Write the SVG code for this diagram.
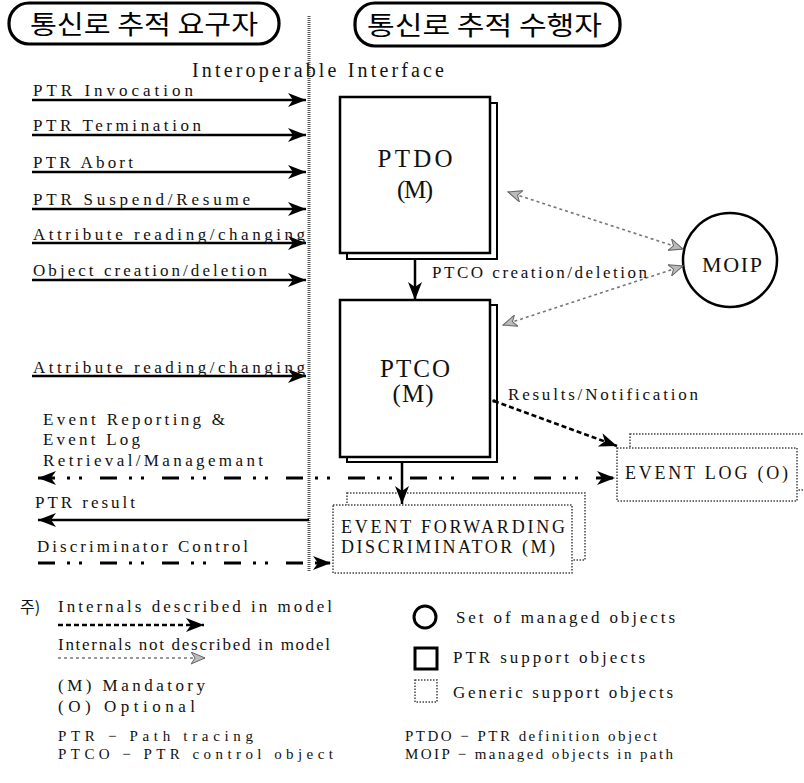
<svg xmlns="http://www.w3.org/2000/svg" width="804" height="783" viewBox="0 0 804 783" font-family="'Liberation Serif', 'DejaVu Serif', serif">
<defs>
<style>
text{font-family:"Liberation Serif","DejaVu Serif",serif;fill:#111}
.kr{font-family:"Noto Sans CJK KR","Noto Sans",sans-serif;font-size:26px;fill:#000}
.lbl{font-size:17px}
.sm{font-size:15px}
.big{font-size:25px;text-anchor:middle}
.gen{font-size:18px}
.solid{stroke:#000;stroke-width:2.5;fill:none}
.box{fill:#fff;stroke:#000;stroke-width:2.5}
.shadow{fill:#fff;stroke:#000;stroke-width:2}
.dotbox{fill:#fff;stroke:#444;stroke-width:1.5;stroke-dasharray:1.5 1.5}
.dashdot{stroke:#000;stroke-width:3;fill:none;stroke-dasharray:17 12 3 9 3 18}
.dashed{stroke:#000;stroke-width:2.5;fill:none;stroke-dasharray:5 3}
.grey{stroke:#777;stroke-width:1.6;fill:none;stroke-dasharray:3 3}
</style>
<marker id="ah" markerUnits="userSpaceOnUse" markerWidth="20" markerHeight="16" refX="18" refY="7" orient="auto-start-reverse">
<path d="M0,0 L18,7 L0,14 L5,7 Z" fill="#000"/>
</marker>
<marker id="gh" markerUnits="userSpaceOnUse" markerWidth="16" markerHeight="14" refX="14" refY="6" orient="auto-start-reverse">
<path d="M0,0 L14,6 L0,12 L4,6 Z" fill="#bbb" stroke="#666" stroke-width="1"/>
</marker>
</defs>

<g id="header-left">
<rect x="9" y="3" width="270" height="41" rx="20" fill="#fff" stroke="#000" stroke-width="3.2"/>
<text class="kr" x="30" y="34" textLength="228" lengthAdjust="spacingAndGlyphs">통신로 추적 요구자</text>
</g>
<g id="header-right">
<rect x="355" y="3" width="265" height="43" rx="20" fill="#fff" stroke="#000" stroke-width="3.2"/>
<text class="kr" x="367" y="35" textLength="235" lengthAdjust="spacingAndGlyphs">통신로 추적 수행자</text>
</g>

<g id="interface">
<line x1="309" y1="16" x2="309" y2="572" stroke="#555" stroke-width="3" stroke-dasharray="1 1"/>
<text x="192" y="77" font-size="20" textLength="252" lengthAdjust="spacing">Interoperable Interface</text>
</g>

<g id="PTDO">
<rect class="shadow" x="347" y="103" width="150" height="156"/>
<rect class="box" x="340" y="97" width="150" height="156"/>
<text class="big" x="415" y="167" textLength="75" lengthAdjust="spacing">PTDO</text>
<text class="big" x="415" y="198" textLength="36" lengthAdjust="spacing">(M)</text>
</g>

<g id="PTCO">
<rect class="shadow" x="347" y="305" width="150" height="157"/>
<rect class="box" x="340" y="300" width="150" height="157"/>
<text class="big" x="415" y="377" textLength="70" lengthAdjust="spacing">PTCO</text>
<text class="big" x="413" y="402" textLength="41" lengthAdjust="spacing">(M)</text>
</g>

<g id="MOIP">
<circle cx="730" cy="260" r="47" fill="#fff" stroke="#000" stroke-width="2.5"/>
<text x="732" y="272" font-size="22" text-anchor="middle" textLength="60" lengthAdjust="spacing">MOIP</text>
</g>

<g id="EVENT-LOG">
<rect class="dotbox" x="630" y="434" width="180" height="56"/>
<rect class="dotbox" x="617" y="448" width="180" height="53"/>
<text class="gen" x="625" y="479" textLength="163" lengthAdjust="spacing">EVENT LOG (O)</text>
</g>

<g id="EFD">
<rect class="dotbox" x="347" y="493" width="238" height="67"/>
<rect class="dotbox" x="333" y="505" width="239" height="68"/>
<text class="gen" x="341" y="533" textLength="224" lengthAdjust="spacing">EVENT FORWARDING</text>
<text class="gen" x="341" y="553" textLength="214" lengthAdjust="spacing">DISCRIMINATOR (M)</text>
</g>

<g id="connectors">
<line class="solid" x1="32" y1="100" x2="306" y2="100" marker-end="url(#ah)"/>
<line class="solid" x1="32" y1="135" x2="306" y2="135" marker-end="url(#ah)"/>
<line class="solid" x1="32" y1="172" x2="306" y2="172" marker-end="url(#ah)"/>
<line class="solid" x1="32" y1="209" x2="306" y2="209" marker-end="url(#ah)"/>
<line class="solid" x1="32" y1="243" x2="306" y2="243" marker-end="url(#ah)"/>
<line class="solid" x1="32" y1="280" x2="306" y2="280" marker-end="url(#ah)"/>
<line class="solid" x1="32" y1="376" x2="306" y2="376" marker-end="url(#ah)"/>
<line class="solid" x1="309" y1="520" x2="38" y2="520" marker-end="url(#ah)"/>
<line class="dashdot" x1="38" y1="478" x2="615" y2="478" marker-start="url(#ah)" marker-end="url(#ah)"/>
<line class="dashdot" x1="38" y1="563" x2="331" y2="563" marker-end="url(#ah)"/>
<line class="solid" x1="415" y1="259" x2="415" y2="300" marker-end="url(#ah)"/>
<line class="solid" x1="402" y1="462" x2="402" y2="504" marker-end="url(#ah)"/>
<line class="dashed" x1="494" y1="401" x2="617" y2="446" marker-end="url(#ah)"/>
<circle cx="494" cy="401" r="1.8" fill="#000"/>
<line class="grey" x1="508" y1="192" x2="683" y2="249" marker-start="url(#gh)" marker-end="url(#gh)"/>
<line class="grey" x1="503" y1="325" x2="683" y2="266" marker-start="url(#gh)" marker-end="url(#gh)"/>
</g>

<g id="labels">
<text class="lbl" x="33" y="96" textLength="160" lengthAdjust="spacing">PTR  Invocation</text>
<text class="lbl" x="33" y="131" textLength="168" lengthAdjust="spacing">PTR Termination</text>
<text class="lbl" x="33" y="168" textLength="100" lengthAdjust="spacing">PTR Abort</text>
<text class="lbl" x="33" y="205" textLength="217" lengthAdjust="spacing">PTR Suspend/Resume</text>
<text class="lbl" x="33" y="240" textLength="272" lengthAdjust="spacing">Attribute reading/changing</text>
<text class="lbl" x="33" y="276" textLength="234" lengthAdjust="spacing">Object creation/deletion</text>
<text class="lbl" x="432" y="278" textLength="215" lengthAdjust="spacing">PTCO creation/deletion</text>
<text class="lbl" x="33" y="373" textLength="272" lengthAdjust="spacing">Attribute reading/changing</text>
<text class="lbl" x="508" y="400" textLength="190" lengthAdjust="spacing">Results/Notification</text>
<text class="lbl" x="43" y="425" textLength="182" lengthAdjust="spacing">Event Reporting &amp;</text>
<text class="lbl" x="43" y="445" textLength="97" lengthAdjust="spacing">Event Log</text>
<text class="lbl" x="43" y="466" textLength="220" lengthAdjust="spacing">Retrieval/Managemant</text>
<text class="lbl" x="35" y="508" textLength="100" lengthAdjust="spacing">PTR result</text>
<text class="lbl" x="37" y="552" textLength="211" lengthAdjust="spacing">Discriminator Control</text>
</g>

<g id="legend">
<text x="20" y="613" style="font-family:'Noto Sans CJK KR',sans-serif;font-size:16px">주)</text>
<text class="lbl" x="58" y="612" textLength="274" lengthAdjust="spacing">Internals described in model</text>
<line class="dashed" x1="58" y1="625" x2="204" y2="625" marker-end="url(#ah)"/>
<text class="lbl" x="58" y="650" textLength="272" lengthAdjust="spacing">Internals not described in model</text>
<line class="grey" x1="58" y1="658" x2="205" y2="658" marker-end="url(#gh)"/>
<text class="lbl" x="58" y="691" textLength="147" lengthAdjust="spacing">(M)  Mandatory</text>
<text class="lbl" x="58" y="712" textLength="137" lengthAdjust="spacing">(O)   Optional</text>
<text class="sm" x="58" y="741" textLength="195" lengthAdjust="spacing">PTR − Path tracing</text>
<text class="sm" x="58" y="759" textLength="275" lengthAdjust="spacing">PTCO − PTR control object</text>
<text class="sm" x="405" y="741" textLength="252" lengthAdjust="spacing">PTDO − PTR definition object</text>
<text class="sm" x="405" y="759" textLength="268" lengthAdjust="spacing">MOIP − managed objects in path</text>
<circle cx="425" cy="617" r="11" fill="none" stroke="#000" stroke-width="3"/>
<text class="lbl" x="456" y="623" textLength="219" lengthAdjust="spacing">Set of managed objects</text>
<rect x="415" y="648" width="22" height="21" fill="none" stroke="#000" stroke-width="3"/>
<text class="lbl" x="453" y="663" textLength="192" lengthAdjust="spacing">PTR support objects</text>
<rect class="dotbox" x="415" y="680" width="22" height="22"/>
<text class="lbl" x="453" y="698" textLength="220" lengthAdjust="spacing">Generic support objects</text>
</g>
</svg>
